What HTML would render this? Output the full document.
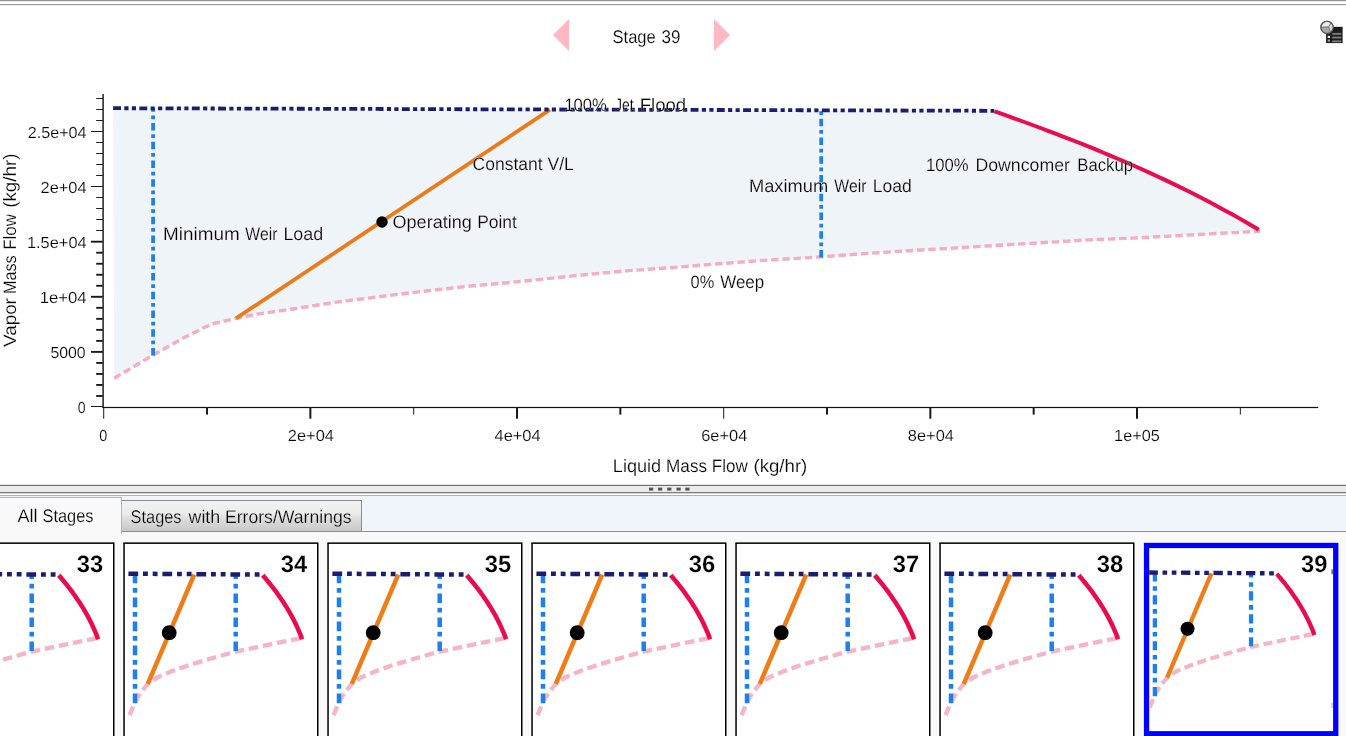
<!DOCTYPE html>
<html><head><meta charset="utf-8"><title>Stage 39</title>
<style>
html,body{margin:0;padding:0;background:#fff;}
body{width:1346px;height:736px;overflow:hidden;position:relative;font-family:"Liberation Sans",sans-serif;}
svg{position:absolute;left:0;top:0;display:block;will-change:transform;}
text{font-family:"Liberation Sans",sans-serif;fill:#000;filter:opacity(1);stroke:#fff;stroke-width:.18px;text-rendering:geometricPrecision;}
.lbl{font-size:17.3px;}
.tick{font-size:16px;}
.num{font-size:23.6px;font-weight:bold;}
</style></head><body>
<svg width="1346" height="736" viewBox="0 0 1346 736">

<rect x="0" y="0" width="1346" height="736" fill="#ffffff"/>
<rect x="0" y="0" width="1346" height="1" fill="#8e9397"/>
<rect x="0" y="1" width="1346" height="1" fill="#e6ebee"/>
<rect x="0" y="4" width="1346" height="1" fill="#959b9f"/>
<rect x="0" y="5" width="1346" height="1" fill="#eef1f3"/>
<polygon points="553,35 569,19 569,51" fill="#ffb7c3"/>
<polygon points="714,19 714,51 730,35" fill="#ffb7c3"/>
<text x="612.50" y="42.70" textLength="43.25" lengthAdjust="spacingAndGlyphs" style="font-size:18.3px">Stage</text>
<text x="661.60" y="42.70" textLength="18.96" lengthAdjust="spacingAndGlyphs" style="font-size:18.3px">39</text>
<g id="icon" transform="translate(0.1,0.4)">
<rect x="1326" y="26.4" width="16.5" height="16.3" fill="#1c1c1c"/>
<rect x="1332.1" y="32.5" width="9.1" height="1.9" fill="#7a7a7a"/>
<rect x="1332.1" y="36.2" width="9.1" height="1.9" fill="#7a7a7a"/>
<rect x="1332.1" y="40.0" width="9.1" height="1.9" fill="#7a7a7a"/>
<rect x="1327.6" y="35.4" width="2.3" height="2.2" fill="#f2f2f2"/>
<rect x="1327.6" y="39.1" width="2.3" height="2.2" fill="#9a9a9a"/>
<circle cx="1326.9" cy="26.9" r="6.1" fill="#ececec" stroke="#5a5a5a" stroke-width="1.1"/>
<path d="M1328.6 26.4 L1321 26.9 A6 6 0 0 0 1330.2 32 Z" fill="#a8a8a8"/>
<path d="M1328.6 26.4 L1330.2 32 A6.1 6.1 0 0 0 1330.8 22.3 Z" fill="#dcdcdc"/>
<path d="M1321 26.9 L1328.6 26.4 L1330.8 22.6 M1328.6 26.4 L1330.3 31.8" fill="none" stroke="#666" stroke-width=".9"/>
<circle cx="1326.9" cy="26.9" r="6.1" fill="none" stroke="#5a5a5a" stroke-width="1.1"/>
</g>
<polygon points="113.1,108.2 994.5,111.3 1001.3,113.7 1008.1,116.1 1014.8,118.6 1021.6,121.0 1028.4,123.5 1035.2,126.0 1041.9,128.5 1048.7,131.1 1055.5,133.7 1062.3,136.3 1069.0,138.9 1075.8,141.5 1082.6,144.2 1089.4,146.9 1096.2,149.7 1102.9,152.5 1109.7,155.3 1116.5,158.2 1123.3,161.1 1130.0,164.0 1136.8,167.0 1143.6,170.0 1150.4,173.1 1157.1,176.2 1163.9,179.4 1170.7,182.6 1177.5,185.9 1184.3,189.2 1191.0,192.6 1197.8,196.0 1204.6,199.5 1211.4,203.1 1218.1,206.7 1224.9,210.4 1231.7,214.1 1238.5,217.9 1245.2,221.8 1252.0,225.8 1258.8,229.8 1260.1,231.3 1222.0,233.2 1177.4,235.6 1132.9,238.1 1088.3,239.9 1040.0,242.8 998.0,245.3 953.4,248.1 908.9,250.7 864.3,253.6 821.2,256.8 790.0,258.8 762.9,260.4 718.3,263.8 673.7,267.5 629.2,270.6 584.6,274.7 540.0,279.4 504.5,283.0 470.2,286.0 425.6,291.0 382.9,296.2 336.4,302.1 292.8,309.0 258.4,313.9 236.0,318.4 215.1,323.2 204.6,327.4 183.7,337.8 153.1,355.0 114.2,378.2" fill="#eff4f8"/>
<rect x="102.4" y="94" width="1.4" height="313.9" fill="#111"/>
<rect x="91.0" y="406.00" width="11.8" height="1.00" fill="#1a1a1a"/>
<rect x="96.2" y="395.03" width="6.6" height="1.90" fill="#1a1a1a"/>
<rect x="96.2" y="384.01" width="6.6" height="1.90" fill="#1a1a1a"/>
<rect x="96.2" y="372.99" width="6.6" height="1.90" fill="#1a1a1a"/>
<rect x="96.2" y="361.97" width="6.6" height="1.90" fill="#1a1a1a"/>
<rect x="91.0" y="350.95" width="11.8" height="1.90" fill="#1a1a1a"/>
<rect x="96.2" y="339.93" width="6.6" height="1.90" fill="#1a1a1a"/>
<rect x="96.2" y="328.91" width="6.6" height="1.90" fill="#1a1a1a"/>
<rect x="96.2" y="317.89" width="6.6" height="1.90" fill="#1a1a1a"/>
<rect x="96.2" y="306.87" width="6.6" height="1.90" fill="#1a1a1a"/>
<rect x="91.0" y="295.85" width="11.8" height="1.90" fill="#1a1a1a"/>
<rect x="96.2" y="284.83" width="6.6" height="1.90" fill="#1a1a1a"/>
<rect x="96.2" y="273.81" width="6.6" height="1.90" fill="#1a1a1a"/>
<rect x="96.2" y="262.79" width="6.6" height="1.90" fill="#1a1a1a"/>
<rect x="96.2" y="251.77" width="6.6" height="1.90" fill="#1a1a1a"/>
<rect x="91.0" y="240.75" width="11.8" height="1.90" fill="#1a1a1a"/>
<rect x="96.2" y="230.00" width="6.6" height="1.00" fill="#1a1a1a"/>
<rect x="96.2" y="219.00" width="6.6" height="1.00" fill="#1a1a1a"/>
<rect x="96.2" y="208.00" width="6.6" height="1.00" fill="#1a1a1a"/>
<rect x="96.2" y="197.00" width="6.6" height="1.00" fill="#1a1a1a"/>
<rect x="91.0" y="186.00" width="11.8" height="1.00" fill="#1a1a1a"/>
<rect x="96.2" y="175.00" width="6.6" height="1.00" fill="#1a1a1a"/>
<rect x="96.2" y="164.00" width="6.6" height="1.00" fill="#1a1a1a"/>
<rect x="96.2" y="153.00" width="6.6" height="1.00" fill="#1a1a1a"/>
<rect x="96.2" y="142.00" width="6.6" height="1.00" fill="#1a1a1a"/>
<rect x="91.0" y="131.00" width="11.8" height="1.00" fill="#1a1a1a"/>
<rect x="96.2" y="120.00" width="6.6" height="1.00" fill="#1a1a1a"/>
<rect x="96.2" y="109.00" width="6.6" height="1.00" fill="#1a1a1a"/>
<rect x="96.2" y="98.00" width="6.6" height="1.00" fill="#1a1a1a"/>
<rect x="102.4" y="406.9" width="1215.8" height="1.2" fill="#111"/>
<rect x="103.20" y="407" width="1.00" height="11.7" fill="#1a1a1a"/>
<rect x="206.03" y="407" width="2.00" height="7.6" fill="#1a1a1a"/>
<rect x="309.36" y="407" width="2.00" height="11.7" fill="#1a1a1a"/>
<rect x="413.19" y="407" width="1.00" height="7.6" fill="#1a1a1a"/>
<rect x="516.02" y="407" width="2.00" height="11.7" fill="#1a1a1a"/>
<rect x="619.35" y="407" width="2.00" height="7.6" fill="#1a1a1a"/>
<rect x="723.18" y="407" width="1.00" height="11.7" fill="#1a1a1a"/>
<rect x="826.01" y="407" width="2.00" height="7.6" fill="#1a1a1a"/>
<rect x="929.34" y="407" width="2.00" height="11.7" fill="#1a1a1a"/>
<rect x="1032.67" y="407" width="2.00" height="7.6" fill="#1a1a1a"/>
<rect x="1136.00" y="407" width="2.00" height="11.7" fill="#1a1a1a"/>
<rect x="1239.83" y="407" width="1.00" height="7.6" fill="#1a1a1a"/>
<text x="77.80" y="412.90" textLength="7.81" lengthAdjust="spacingAndGlyphs" style="font-size:16px">0</text>
<text x="50.40" y="357.90" textLength="35.20" lengthAdjust="spacingAndGlyphs" style="font-size:16px">5000</text>
<text x="39.66" y="302.90" textLength="46.94" lengthAdjust="spacingAndGlyphs" style="font-size:16px">1e+04</text>
<text x="26.98" y="247.90" textLength="59.62" lengthAdjust="spacingAndGlyphs" style="font-size:16px">1.5e+04</text>
<text x="40.50" y="192.90" textLength="46.10" lengthAdjust="spacingAndGlyphs" style="font-size:16px">2e+04</text>
<text x="27.70" y="137.90" textLength="58.90" lengthAdjust="spacingAndGlyphs" style="font-size:16px">2.5e+04</text>
<text x="99.35" y="440.90" textLength="8.01" lengthAdjust="spacingAndGlyphs" style="font-size:16px">0</text>
<text x="287.86" y="440.90" textLength="46.10" lengthAdjust="spacingAndGlyphs" style="font-size:16px">2e+04</text>
<text x="494.52" y="440.90" textLength="46.10" lengthAdjust="spacingAndGlyphs" style="font-size:16px">4e+04</text>
<text x="701.18" y="440.90" textLength="46.10" lengthAdjust="spacingAndGlyphs" style="font-size:16px">6e+04</text>
<text x="907.84" y="440.90" textLength="46.10" lengthAdjust="spacingAndGlyphs" style="font-size:16px">8e+04</text>
<text x="1114.13" y="440.90" textLength="45.61" lengthAdjust="spacingAndGlyphs" style="font-size:16px">1e+05</text>
<text x="612.89" y="471.50" textLength="48.32" lengthAdjust="spacingAndGlyphs" style="font-size:18px">Liquid</text>
<text x="666.05" y="471.50" textLength="41.05" lengthAdjust="spacingAndGlyphs" style="font-size:18px">Mass</text>
<text x="711.86" y="471.50" textLength="35.90" lengthAdjust="spacingAndGlyphs" style="font-size:18px">Flow</text>
<text x="753.46" y="471.50" textLength="53.87" lengthAdjust="spacingAndGlyphs" style="font-size:18px">(kg/hr)</text>
<g transform="translate(15.7,347.0) rotate(-90)">
<text x="0.00" y="0.00" textLength="48.89" lengthAdjust="spacingAndGlyphs" style="font-size:18px">Vapor</text>
<text x="52.90" y="0.00" textLength="38.80" lengthAdjust="spacingAndGlyphs" style="font-size:18px">Mass</text>
<text x="97.16" y="0.00" textLength="35.70" lengthAdjust="spacingAndGlyphs" style="font-size:18px">Flow</text>
<text x="139.15" y="0.00" textLength="54.39" lengthAdjust="spacingAndGlyphs" style="font-size:18px">(kg/hr)</text>
</g>
<path d="M114.2 378.2 L153.1 355.0 L183.7 337.8 L204.6 327.4 L215.1 323.2 L236.0 318.4 L258.4 313.9 L292.8 309.0 L336.4 302.1 L382.9 296.2 L425.6 291.0 L470.2 286.0 L504.5 283.0 L540.0 279.4 L584.6 274.7 L629.2 270.6 L673.7 267.5 L718.3 263.8 L762.9 260.4 L790.0 258.8 L821.2 256.8 L864.3 253.6 L908.9 250.7 L953.4 248.1 L998.0 245.3 L1040.0 242.8 L1088.3 239.9 L1132.9 238.1 L1177.4 235.6 L1222.0 233.2 L1260.1 231.3" fill="none" stroke="#f6adc2" stroke-width="3.4" stroke-dasharray="7.5 3.75"/>
<line x1="153.1" y1="355.5" x2="153.1" y2="108.4" stroke="#1d7fea" stroke-width="3.75" stroke-dasharray="7.5 3.75 3.75 3.75"/>
<line x1="821.2" y1="257.6" x2="821.2" y2="110.3" stroke="#1d7fea" stroke-width="3.75" stroke-dasharray="7.5 3.75 3.75 3.75"/>
<line x1="236" y1="318.4" x2="550" y2="109.6" stroke="#ec7a17" stroke-width="3.75"/>
<path d="M994.5 111.3 L1001.3 113.7 L1008.1 116.1 L1014.8 118.6 L1021.6 121.0 L1028.4 123.5 L1035.2 126.0 L1041.9 128.5 L1048.7 131.1 L1055.5 133.7 L1062.3 136.3 L1069.0 138.9 L1075.8 141.5 L1082.6 144.2 L1089.4 146.9 L1096.2 149.7 L1102.9 152.5 L1109.7 155.3 L1116.5 158.2 L1123.3 161.1 L1130.0 164.0 L1136.8 167.0 L1143.6 170.0 L1150.4 173.1 L1157.1 176.2 L1163.9 179.4 L1170.7 182.6 L1177.5 185.9 L1184.3 189.2 L1191.0 192.6 L1197.8 196.0 L1204.6 199.5 L1211.4 203.1 L1218.1 206.7 L1224.9 210.4 L1231.7 214.1 L1238.5 217.9 L1245.2 221.8 L1252.0 225.8 L1258.8 229.8" fill="none" stroke="#ea0c4d" stroke-width="3.95" stroke-linejoin="round"/>
<path d="M113.1 108.2 L994.3 110.8" fill="none" stroke="#1c1c70" stroke-width="3.80" stroke-dasharray="7.9 3.35 4.15 3.35 4.15 3.35"/>
<circle cx="382" cy="222" r="5.7" fill="#000"/>
<text x="564.38" y="111.20" textLength="42.53" lengthAdjust="spacingAndGlyphs" style="font-size:18px">100%</text>
<text x="615.00" y="111.20" textLength="18.70" lengthAdjust="spacingAndGlyphs" style="font-size:18px">Jet</text>
<text x="639.67" y="111.20" textLength="46.48" lengthAdjust="spacingAndGlyphs" style="font-size:18px">Flood</text>
<text x="163.05" y="239.70" textLength="76.59" lengthAdjust="spacingAndGlyphs" style="font-size:18px">Minimum</text>
<text x="245.30" y="239.70" textLength="32.09" lengthAdjust="spacingAndGlyphs" style="font-size:18px">Weir</text>
<text x="283.41" y="239.70" textLength="39.80" lengthAdjust="spacingAndGlyphs" style="font-size:18px">Load</text>
<text x="392.50" y="228.40" textLength="79.31" lengthAdjust="spacingAndGlyphs" style="font-size:18px">Operating</text>
<text x="477.13" y="228.40" textLength="39.77" lengthAdjust="spacingAndGlyphs" style="font-size:18px">Point</text>
<text x="472.60" y="169.80" textLength="70.00" lengthAdjust="spacingAndGlyphs" style="font-size:18px">Constant</text>
<text x="547.50" y="169.80" textLength="26.41" lengthAdjust="spacingAndGlyphs" style="font-size:18px">V/L</text>
<text x="748.98" y="191.80" textLength="79.23" lengthAdjust="spacingAndGlyphs" style="font-size:18px">Maximum</text>
<text x="834.30" y="191.80" textLength="32.09" lengthAdjust="spacingAndGlyphs" style="font-size:18px">Weir</text>
<text x="872.72" y="191.80" textLength="39.06" lengthAdjust="spacingAndGlyphs" style="font-size:18px">Load</text>
<text x="925.97" y="170.80" textLength="42.73" lengthAdjust="spacingAndGlyphs" style="font-size:18px">100%</text>
<text x="975.42" y="170.80" textLength="94.58" lengthAdjust="spacingAndGlyphs" style="font-size:18px">Downcomer</text>
<text x="1077.27" y="170.80" textLength="55.74" lengthAdjust="spacingAndGlyphs" style="font-size:18px">Backup</text>
<text x="690.60" y="287.70" textLength="23.70" lengthAdjust="spacingAndGlyphs" style="font-size:18px">0%</text>
<text x="720.20" y="287.70" textLength="44.01" lengthAdjust="spacingAndGlyphs" style="font-size:18px">Weep</text>
<rect x="0" y="484" width="1346" height="1" fill="#e4e4e4"/>
<rect x="0" y="485" width="1346" height="1" fill="#6e6e6e"/>
<rect x="0" y="486" width="1346" height="6" fill="#ebebeb"/>
<rect x="0" y="492" width="1346" height="1" fill="#7a7a7a"/>
<rect x="0" y="493" width="1346" height="1" fill="#d8d8d8"/>
<rect x="0" y="494" width="1346" height="1" fill="#ffffff"/>
<rect x="649.0" y="487.6" width="4.2" height="3" fill="#555"/>
<rect x="658.0" y="487.6" width="4.2" height="3" fill="#555"/>
<rect x="667.2" y="487.6" width="4.2" height="3" fill="#555"/>
<rect x="676.5" y="487.6" width="4.2" height="3" fill="#555"/>
<rect x="685.3" y="487.6" width="4.2" height="3" fill="#555"/>
<defs><linearGradient id="tabg" x1="0" y1="0" x2="0" y2="1"><stop offset="0" stop-color="#f3f3f3"/><stop offset="0.42" stop-color="#ececec"/><stop offset="0.58" stop-color="#dddddd"/><stop offset="1" stop-color="#c8c8c8"/></linearGradient></defs>
<rect x="0" y="495" width="1346" height="37" fill="#f0f5fc"/>
<rect x="0" y="495" width="1346" height="1" fill="#a9b4c0"/>
<rect x="0" y="532" width="1346" height="204" fill="#f9f9f9"/>
<rect x="0" y="531" width="1346" height="1" fill="#909090"/>
<rect x="121.5" y="500.5" width="240" height="31" fill="url(#tabg)" stroke="#8c8c8c" stroke-width="1"/>
<rect x="-2" y="497.5" width="123.5" height="36" fill="#f9f9f9" stroke="#b5b5b5" stroke-width="1"/>
<rect x="-2" y="531" width="123" height="3" fill="#f9f9f9"/>
<text x="17.40" y="521.80" textLength="20.05" lengthAdjust="spacingAndGlyphs" style="font-size:18.3px">All</text>
<text x="42.50" y="521.80" textLength="50.93" lengthAdjust="spacingAndGlyphs" style="font-size:18.3px">Stages</text>
<text x="130.60" y="522.50" textLength="50.93" lengthAdjust="spacingAndGlyphs" style="font-size:18.3px">Stages</text>
<text x="188.57" y="522.50" textLength="31.66" lengthAdjust="spacingAndGlyphs" style="font-size:18.3px">with</text>
<text x="224.94" y="522.50" textLength="126.60" lengthAdjust="spacingAndGlyphs" style="font-size:18.3px">Errors/Warnings</text>
<rect x="-79.95" y="543.15" width="193.7" height="196" fill="#fff" stroke="#000" stroke-width="1.5"/>
<g transform="translate(-80.70,542.40)"><path d="M6.2 172.8 L11.7 159.6 L17.2 150.1 L24.5 141.4 L34.7 134.6 L47.7 129.1 L66.7 122.4 L85.9 116.6 L112.4 109.2 L144.7 102.4 L177.7 95.6" fill="none" stroke="#f8b3c6" stroke-width="4.30" stroke-dasharray="9.6 4.8"/>
<line x1="11.7" y1="160.8" x2="11.7" y2="31.3" stroke="#1d7fea" stroke-width="4.50" stroke-dasharray="9.6 4.8 4.8 4.8"/>
<line x1="112.4" y1="108.6" x2="112.4" y2="31.9" stroke="#1d7fea" stroke-width="4.50" stroke-dasharray="9.6 4.8 4.8 4.8"/>
<line x1="24.5" y1="141.4" x2="70.9" y2="32.2" stroke="#ef7c15" stroke-width="4.5"/>
<path d="M139.4 32.8 L141.8 35.6 L144.2 38.4 L146.4 41.1 L148.6 43.9 L150.8 46.7 L152.9 49.5 L154.9 52.3 L156.8 55.1 L158.7 57.8 L160.6 60.6 L162.3 63.4 L164.1 66.2 L165.7 69.0 L167.3 71.8 L168.8 74.5 L170.3 77.3 L171.7 80.1 L173.0 82.9 L174.3 85.7 L175.5 88.5 L176.7 91.2 L177.8 94.0 L178.8 96.8" fill="none" stroke="#ec0a4c" stroke-width="4.5" stroke-linejoin="round"/>
<path d="M5.1 31.3 L139.2 32.2" fill="none" stroke="#1c1c70" stroke-width="4.50" stroke-dasharray="9.75 4.85 4.85 4.85 4.85 4.85"/>
<circle cx="45.9" cy="90.3" r="7.4" fill="#000"/></g>
<text x="76.80" y="572.00" textLength="26.42" lengthAdjust="spacingAndGlyphs" style="font-size:23.6px;font-weight:bold">33</text>
<rect x="124.05" y="543.15" width="193.7" height="196" fill="#fff" stroke="#000" stroke-width="1.5"/>
<g transform="translate(123.30,542.40)"><path d="M6.2 172.8 L11.7 159.6 L17.2 150.1 L24.5 141.4 L34.7 134.6 L47.7 129.1 L66.7 122.4 L85.9 116.6 L112.4 109.2 L144.7 102.4 L177.7 95.6" fill="none" stroke="#f8b3c6" stroke-width="4.30" stroke-dasharray="9.6 4.8"/>
<line x1="11.7" y1="160.8" x2="11.7" y2="31.3" stroke="#1d7fea" stroke-width="4.50" stroke-dasharray="9.6 4.8 4.8 4.8"/>
<line x1="112.4" y1="108.6" x2="112.4" y2="31.9" stroke="#1d7fea" stroke-width="4.50" stroke-dasharray="9.6 4.8 4.8 4.8"/>
<line x1="24.5" y1="141.4" x2="70.9" y2="32.2" stroke="#ef7c15" stroke-width="4.5"/>
<path d="M139.4 32.8 L141.8 35.6 L144.2 38.4 L146.4 41.1 L148.6 43.9 L150.8 46.7 L152.9 49.5 L154.9 52.3 L156.8 55.1 L158.7 57.8 L160.6 60.6 L162.3 63.4 L164.1 66.2 L165.7 69.0 L167.3 71.8 L168.8 74.5 L170.3 77.3 L171.7 80.1 L173.0 82.9 L174.3 85.7 L175.5 88.5 L176.7 91.2 L177.8 94.0 L178.8 96.8" fill="none" stroke="#ec0a4c" stroke-width="4.5" stroke-linejoin="round"/>
<path d="M5.1 31.3 L139.2 32.2" fill="none" stroke="#1c1c70" stroke-width="4.50" stroke-dasharray="9.75 4.85 4.85 4.85 4.85 4.85"/>
<circle cx="45.9" cy="90.3" r="7.4" fill="#000"/></g>
<text x="280.80" y="572.00" textLength="26.42" lengthAdjust="spacingAndGlyphs" style="font-size:23.6px;font-weight:bold">34</text>
<rect x="328.05" y="543.15" width="193.7" height="196" fill="#fff" stroke="#000" stroke-width="1.5"/>
<g transform="translate(327.30,542.40)"><path d="M6.2 172.8 L11.7 159.6 L17.2 150.1 L24.5 141.4 L34.7 134.6 L47.7 129.1 L66.7 122.4 L85.9 116.6 L112.4 109.2 L144.7 102.4 L177.7 95.6" fill="none" stroke="#f8b3c6" stroke-width="4.30" stroke-dasharray="9.6 4.8"/>
<line x1="11.7" y1="160.8" x2="11.7" y2="31.3" stroke="#1d7fea" stroke-width="4.50" stroke-dasharray="9.6 4.8 4.8 4.8"/>
<line x1="112.4" y1="108.6" x2="112.4" y2="31.9" stroke="#1d7fea" stroke-width="4.50" stroke-dasharray="9.6 4.8 4.8 4.8"/>
<line x1="24.5" y1="141.4" x2="70.9" y2="32.2" stroke="#ef7c15" stroke-width="4.5"/>
<path d="M139.4 32.8 L141.8 35.6 L144.2 38.4 L146.4 41.1 L148.6 43.9 L150.8 46.7 L152.9 49.5 L154.9 52.3 L156.8 55.1 L158.7 57.8 L160.6 60.6 L162.3 63.4 L164.1 66.2 L165.7 69.0 L167.3 71.8 L168.8 74.5 L170.3 77.3 L171.7 80.1 L173.0 82.9 L174.3 85.7 L175.5 88.5 L176.7 91.2 L177.8 94.0 L178.8 96.8" fill="none" stroke="#ec0a4c" stroke-width="4.5" stroke-linejoin="round"/>
<path d="M5.1 31.3 L139.2 32.2" fill="none" stroke="#1c1c70" stroke-width="4.50" stroke-dasharray="9.75 4.85 4.85 4.85 4.85 4.85"/>
<circle cx="45.9" cy="90.3" r="7.4" fill="#000"/></g>
<text x="484.80" y="572.00" textLength="26.42" lengthAdjust="spacingAndGlyphs" style="font-size:23.6px;font-weight:bold">35</text>
<rect x="532.05" y="543.15" width="193.7" height="196" fill="#fff" stroke="#000" stroke-width="1.5"/>
<g transform="translate(531.30,542.40)"><path d="M6.2 172.8 L11.7 159.6 L17.2 150.1 L24.5 141.4 L34.7 134.6 L47.7 129.1 L66.7 122.4 L85.9 116.6 L112.4 109.2 L144.7 102.4 L177.7 95.6" fill="none" stroke="#f8b3c6" stroke-width="4.30" stroke-dasharray="9.6 4.8"/>
<line x1="11.7" y1="160.8" x2="11.7" y2="31.3" stroke="#1d7fea" stroke-width="4.50" stroke-dasharray="9.6 4.8 4.8 4.8"/>
<line x1="112.4" y1="108.6" x2="112.4" y2="31.9" stroke="#1d7fea" stroke-width="4.50" stroke-dasharray="9.6 4.8 4.8 4.8"/>
<line x1="24.5" y1="141.4" x2="70.9" y2="32.2" stroke="#ef7c15" stroke-width="4.5"/>
<path d="M139.4 32.8 L141.8 35.6 L144.2 38.4 L146.4 41.1 L148.6 43.9 L150.8 46.7 L152.9 49.5 L154.9 52.3 L156.8 55.1 L158.7 57.8 L160.6 60.6 L162.3 63.4 L164.1 66.2 L165.7 69.0 L167.3 71.8 L168.8 74.5 L170.3 77.3 L171.7 80.1 L173.0 82.9 L174.3 85.7 L175.5 88.5 L176.7 91.2 L177.8 94.0 L178.8 96.8" fill="none" stroke="#ec0a4c" stroke-width="4.5" stroke-linejoin="round"/>
<path d="M5.1 31.3 L139.2 32.2" fill="none" stroke="#1c1c70" stroke-width="4.50" stroke-dasharray="9.75 4.85 4.85 4.85 4.85 4.85"/>
<circle cx="45.9" cy="90.3" r="7.4" fill="#000"/></g>
<text x="688.80" y="572.00" textLength="26.42" lengthAdjust="spacingAndGlyphs" style="font-size:23.6px;font-weight:bold">36</text>
<rect x="736.05" y="543.15" width="193.7" height="196" fill="#fff" stroke="#000" stroke-width="1.5"/>
<g transform="translate(735.30,542.40)"><path d="M6.2 172.8 L11.7 159.6 L17.2 150.1 L24.5 141.4 L34.7 134.6 L47.7 129.1 L66.7 122.4 L85.9 116.6 L112.4 109.2 L144.7 102.4 L177.7 95.6" fill="none" stroke="#f8b3c6" stroke-width="4.30" stroke-dasharray="9.6 4.8"/>
<line x1="11.7" y1="160.8" x2="11.7" y2="31.3" stroke="#1d7fea" stroke-width="4.50" stroke-dasharray="9.6 4.8 4.8 4.8"/>
<line x1="112.4" y1="108.6" x2="112.4" y2="31.9" stroke="#1d7fea" stroke-width="4.50" stroke-dasharray="9.6 4.8 4.8 4.8"/>
<line x1="24.5" y1="141.4" x2="70.9" y2="32.2" stroke="#ef7c15" stroke-width="4.5"/>
<path d="M139.4 32.8 L141.8 35.6 L144.2 38.4 L146.4 41.1 L148.6 43.9 L150.8 46.7 L152.9 49.5 L154.9 52.3 L156.8 55.1 L158.7 57.8 L160.6 60.6 L162.3 63.4 L164.1 66.2 L165.7 69.0 L167.3 71.8 L168.8 74.5 L170.3 77.3 L171.7 80.1 L173.0 82.9 L174.3 85.7 L175.5 88.5 L176.7 91.2 L177.8 94.0 L178.8 96.8" fill="none" stroke="#ec0a4c" stroke-width="4.5" stroke-linejoin="round"/>
<path d="M5.1 31.3 L139.2 32.2" fill="none" stroke="#1c1c70" stroke-width="4.50" stroke-dasharray="9.75 4.85 4.85 4.85 4.85 4.85"/>
<circle cx="45.9" cy="90.3" r="7.4" fill="#000"/></g>
<text x="892.80" y="572.00" textLength="26.42" lengthAdjust="spacingAndGlyphs" style="font-size:23.6px;font-weight:bold">37</text>
<rect x="940.05" y="543.15" width="193.7" height="196" fill="#fff" stroke="#000" stroke-width="1.5"/>
<g transform="translate(939.30,542.40)"><path d="M6.2 172.8 L11.7 159.6 L17.2 150.1 L24.5 141.4 L34.7 134.6 L47.7 129.1 L66.7 122.4 L85.9 116.6 L112.4 109.2 L144.7 102.4 L177.7 95.6" fill="none" stroke="#f8b3c6" stroke-width="4.30" stroke-dasharray="9.6 4.8"/>
<line x1="11.7" y1="160.8" x2="11.7" y2="31.3" stroke="#1d7fea" stroke-width="4.50" stroke-dasharray="9.6 4.8 4.8 4.8"/>
<line x1="112.4" y1="108.6" x2="112.4" y2="31.9" stroke="#1d7fea" stroke-width="4.50" stroke-dasharray="9.6 4.8 4.8 4.8"/>
<line x1="24.5" y1="141.4" x2="70.9" y2="32.2" stroke="#ef7c15" stroke-width="4.5"/>
<path d="M139.4 32.8 L141.8 35.6 L144.2 38.4 L146.4 41.1 L148.6 43.9 L150.8 46.7 L152.9 49.5 L154.9 52.3 L156.8 55.1 L158.7 57.8 L160.6 60.6 L162.3 63.4 L164.1 66.2 L165.7 69.0 L167.3 71.8 L168.8 74.5 L170.3 77.3 L171.7 80.1 L173.0 82.9 L174.3 85.7 L175.5 88.5 L176.7 91.2 L177.8 94.0 L178.8 96.8" fill="none" stroke="#ec0a4c" stroke-width="4.5" stroke-linejoin="round"/>
<path d="M5.1 31.3 L139.2 32.2" fill="none" stroke="#1c1c70" stroke-width="4.50" stroke-dasharray="9.75 4.85 4.85 4.85 4.85 4.85"/>
<circle cx="45.9" cy="90.3" r="7.4" fill="#000"/></g>
<text x="1096.80" y="572.00" textLength="26.42" lengthAdjust="spacingAndGlyphs" style="font-size:23.6px;font-weight:bold">38</text>
<rect x="1146.55" y="545.45" width="189.20" height="188.30" fill="#fff" stroke="#0000ff" stroke-width="5.3"/>
<clipPath id="c39"><rect x="1149.20" y="548.10" width="183.90" height="183.00"/></clipPath>
<g clip-path="url(#c39)"><g transform="translate(1143.70,542.6) scale(0.955)"><path d="M6.2 172.8 L11.7 159.6 L17.2 150.1 L24.5 141.4 L34.7 134.6 L47.7 129.1 L66.7 122.4 L85.9 116.6 L112.4 109.2 L144.7 102.4 L177.7 95.6" fill="none" stroke="#f8b3c6" stroke-width="4.30" stroke-dasharray="9.6 4.8"/>
<line x1="11.7" y1="160.8" x2="11.7" y2="31.3" stroke="#1d7fea" stroke-width="4.50" stroke-dasharray="9.6 4.8 4.8 4.8"/>
<line x1="112.4" y1="108.6" x2="112.4" y2="31.9" stroke="#1d7fea" stroke-width="4.50" stroke-dasharray="9.6 4.8 4.8 4.8"/>
<line x1="24.5" y1="141.4" x2="70.9" y2="32.2" stroke="#ef7c15" stroke-width="4.5"/>
<path d="M139.4 32.8 L141.8 35.6 L144.2 38.4 L146.4 41.1 L148.6 43.9 L150.8 46.7 L152.9 49.5 L154.9 52.3 L156.8 55.1 L158.7 57.8 L160.6 60.6 L162.3 63.4 L164.1 66.2 L165.7 69.0 L167.3 71.8 L168.8 74.5 L170.3 77.3 L171.7 80.1 L173.0 82.9 L174.3 85.7 L175.5 88.5 L176.7 91.2 L177.8 94.0 L178.8 96.8" fill="none" stroke="#ec0a4c" stroke-width="4.5" stroke-linejoin="round"/>
<path d="M5.1 31.3 L139.2 32.2" fill="none" stroke="#1c1c70" stroke-width="4.50" stroke-dasharray="9.75 4.85 4.85 4.85 4.85 4.85"/>
<circle cx="45.9" cy="90.3" r="7.4" fill="#000"/></g></g>
<text x="1301.00" y="572.00" textLength="26.32" lengthAdjust="spacingAndGlyphs" style="font-size:23.6px;font-weight:bold">39</text>
<rect x="1331.4" y="569.3" width="1.4" height="5" fill="#1c1c70" opacity=".75"/>
<rect x="1331.2" y="702.6" width="1.7" height="5.4" fill="#f8b3c6" opacity=".9"/>
</svg></body></html>
